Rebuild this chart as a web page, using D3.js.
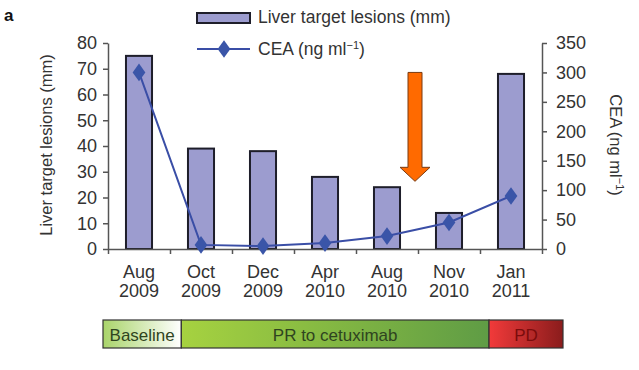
<!DOCTYPE html>
<html>
<head>
<meta charset="utf-8">
<script src="https://cdn.jsdelivr.net/npm/d3@7"></script>
<style>
  body { margin: 0; background: #fff; }
  text { font-family: "Liberation Sans", Arial, sans-serif; fill: #333; }
</style>
</head>
<body>
<div id="chart"></div>
<script>
// data
const months = ["Aug", "Oct", "Dec", "Apr", "Aug", "Nov", "Jan"];
const years = ["2009", "2009", "2009", "2010", "2010", "2010", "2011"];
const lesions = [75, 39, 38, 28, 24, 14, 68];   // mm
const cea = [300, 7, 5, 10, 22, 45, 90];       // ng/ml
const leftTicks = [0, 10, 20, 30, 40, 50, 60, 70, 80];
const rightTicks = [0, 50, 100, 150, 200, 250, 300, 350];
const phases = ["Baseline", "PR to cetuximab", "PD"];
const phaseSpan = [1.26, 4.95, 1.19];            // in category widths
const arrowAt = 5;                               // band boundary Aug/Nov 2010
const arrowTop = 300;                            // CEA units
const arrowTip = 115;

const W = 639, H = 370;
const m = {left: 108, right: 97, top: 43, bottom: 121};
const w = W - m.left - m.right, h = H - m.top - m.bottom;
const fs = "18px";

const svg = d3.select("#chart").append("svg")
  .attr("width", W).attr("height", H);

const g = svg.append("g").attr("transform", `translate(${m.left},${m.top})`);

const x = d3.scaleBand().domain(d3.range(months.length)).range([0, w]).paddingInner(0.58).paddingOuter(0.29);
const xEdge = d3.scaleLinear().domain([0, months.length]).range([0, w]);
const yL = d3.scaleLinear().domain([0, 80]).range([h, 0]);
const yR = d3.scaleLinear().domain([0, 350]).range([h, 0]);

// bars
g.selectAll(".bar").data(lesions).join("rect")
  .attr("class", "bar")
  .attr("x", (d, i) => x(i))
  .attr("y", d => yL(d))
  .attr("width", x.bandwidth())
  .attr("height", d => h - yL(d))
  .style("fill", "#9c9ccf")
  .style("stroke", "#1e1e2a")
  .style("stroke-width", 2);

// axes
const axisStyle = sel => {
  sel.selectAll("path, line").style("stroke", "#555").style("stroke-width", 1.5);
  sel.selectAll("text").style("font-size", fs).style("fill", "#333")
    .style("font-family", "'Liberation Sans', Arial, sans-serif");
};

g.append("g")
  .call(d3.axisLeft(yL).tickValues(leftTicks).tickSize(5).tickSizeOuter(0).tickPadding(6))
  .call(axisStyle);

g.append("g").attr("transform", `translate(${w},0)`)
  .call(d3.axisRight(yR).tickValues(rightTicks).tickSize(5).tickSizeOuter(0).tickPadding(9))
  .call(axisStyle);

g.append("g").attr("transform", `translate(0,${h})`)
  .call(d3.axisBottom(xEdge).ticks(months.length).tickSize(5).tickSizeOuter(0).tickFormat(""))
  .call(axisStyle);

const xl = g.append("g").selectAll("text").data(months).join("text")
  .attr("x", (d, i) => x(i) + x.bandwidth() / 2)
  .attr("y", h + 29)
  .attr("text-anchor", "middle")
  .style("font-size", fs);
xl.append("tspan").text(d => d);
xl.append("tspan").attr("x", (d, i) => x(i) + x.bandwidth() / 2).attr("dy", 19).text((d, i) => years[i]);

// CEA line
const line = d3.line()
  .x((d, i) => x(i) + x.bandwidth() / 2)
  .y(d => yR(d));

g.append("path").datum(cea)
  .attr("d", line)
  .style("fill", "none")
  .style("stroke", "#3a4ea6")
  .style("stroke-width", 2);

const diamond = d3.symbol().type(d3.symbolDiamond).size(90);
g.selectAll(".pt").data(cea).join("path")
  .attr("class", "pt")
  .attr("transform", (d, i) => `translate(${x(i) + x.bandwidth() / 2},${yR(d)}) scale(1.25,1)`)
  .attr("d", diamond)
  .style("fill", "#3a55a8");

// orange arrow
const ax = xEdge(arrowAt) - 3, aTop = yR(arrowTop), aTip = yR(arrowTip), headH = 14;
g.append("path")
  .attr("d", `M${ax - 7},${aTop} H${ax + 7} V${aTip - headH} H${ax + 15} L${ax},${aTip} L${ax - 15},${aTip - headH} H${ax - 7} Z`)
  .style("fill", "#ff6a00")
  .style("stroke", "#7a3a10")
  .style("stroke-width", 1);

// axis titles
g.append("text")
  .attr("transform", `translate(-56,${h / 2 - 1}) rotate(-90)`)
  .attr("text-anchor", "middle")
  .style("font-size", "16.5px")
  .text("Liver target lesions (mm)");

const rt = g.append("text")
  .attr("transform", `translate(${w + 68},${h / 2 - 1}) rotate(90)`)
  .attr("text-anchor", "middle")
  .style("font-size", "16.5px");
rt.append("tspan").text("CEA (ng ml");
rt.append("tspan").attr("dy", -6).style("font-size", "11px").text("−1");
rt.append("tspan").attr("dy", 6).text(")");

// legend
const lg = svg.append("g").attr("transform", "translate(197,0)");
lg.append("rect").attr("x", 0).attr("y", 13).attr("width", 53).attr("height", 10)
  .style("fill", "#9c9ccf").style("stroke", "#1e1e2a").style("stroke-width", 2);
lg.append("text").attr("x", 61).attr("y", 23).style("font-size", "17.5px").text("Liver target lesions (mm)");
lg.append("line").attr("x1", 0).attr("x2", 53).attr("y1", 49).attr("y2", 49)
  .style("stroke", "#3a4ea6").style("stroke-width", 2);
lg.append("path").attr("transform", "translate(27,49) scale(1.25,1)").attr("d", diamond).style("fill", "#3a55a8");
const lt = lg.append("text").attr("x", 61).attr("y", 55).style("font-size", "17.5px");
lt.append("tspan").text("CEA (ng ml");
lt.append("tspan").attr("dy", -6).style("font-size", "11px").text("−1");
lt.append("tspan").attr("dy", 6).text(")");

// panel letter
svg.append("text").attr("x", 4).attr("y", 21)
  .style("font-size", "17px").style("font-weight", "bold").style("fill", "#111").text("a");

// treatment phase bar
const defs = svg.append("defs");
const grads = [["#a9d46a", "#ffffff"], ["#a6d240", "#5f9c45"], ["#f23a3a", "#8a1c1c"]];
grads.forEach((c, i) => {
  const gr = defs.append("linearGradient").attr("id", "ph" + i);
  gr.append("stop").attr("offset", "0%").attr("stop-color", c[0]);
  gr.append("stop").attr("offset", "100%").attr("stop-color", c[1]);
});
const phaseX = d3.scaleLinear().domain([0, d3.sum(phaseSpan)]).range([103, 563]);
const starts = d3.cumsum([0, ...phaseSpan]);
const pb = svg.append("g");
pb.selectAll("rect").data(phases).join("rect")
  .attr("x", (d, i) => phaseX(starts[i]))
  .attr("y", 320)
  .attr("width", (d, i) => phaseX(starts[i + 1]) - phaseX(starts[i]))
  .attr("height", 28)
  .style("fill", (d, i) => `url(#ph${i})`)
  .style("stroke", "#333")
  .style("stroke-width", 1.2);
pb.selectAll("text").data(phases).join("text")
  .attr("x", (d, i) => (phaseX(starts[i]) + phaseX(starts[i + 1])) / 2)
  .attr("y", 341)
  .attr("text-anchor", "middle")
  .style("font-size", "17px")
  .style("fill", (d, i) => i === 2 ? "#7a0c0c" : "#2f4420")
  .text(d => d);
</script>
</body>
</html>
